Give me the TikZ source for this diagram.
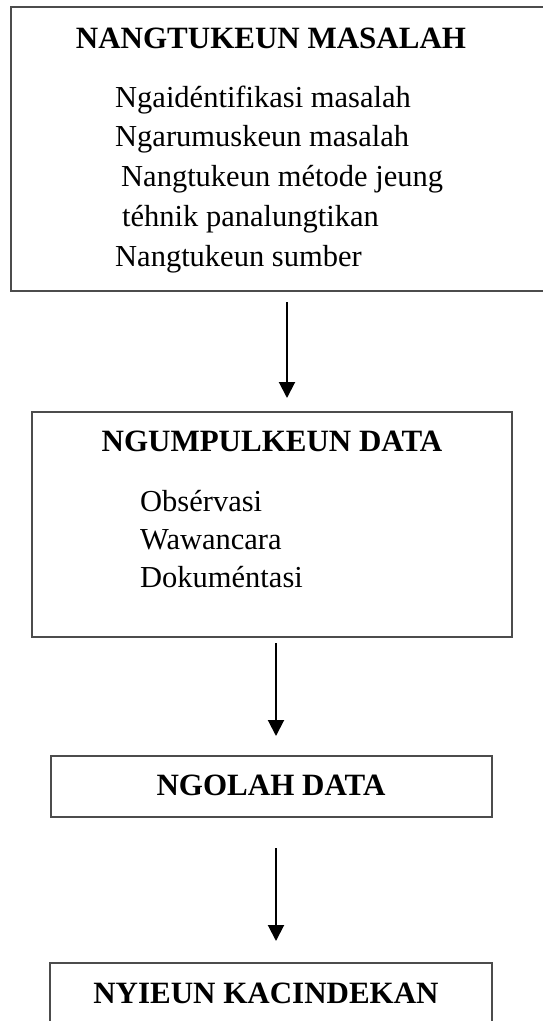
\documentclass[tikz,border=0pt]{standalone}
\usepackage{fontspec}
\setmainfont{Liberation Serif}
\usepackage{tikz}
\usetikzlibrary{arrows.meta}

\tikzset{
  box/.style={shape=rectangle,draw=black!70,line width=1.5pt,inner sep=0pt},
  head/.style={inner sep=0pt,anchor=base,font=\fontsize{31}{36}\selectfont\bfseries},
  item/.style={inner sep=0pt,anchor=base west,font=\fontsize{30.5}{36}\selectfont},
  flow/.style={line width=2pt,-{Triangle[width=16pt,length=16pt]}}
}

\begin{document}
\begin{tikzpicture}[x=1pt,y=-1pt]
\useasboundingbox (0,0) rectangle (543,1021);
% boxes
\path (285.5,149) node (masalah) [box,minimum width=549pt,minimum height=284pt] {};
\path (272,524.5) node (data) [box,minimum width=480pt,minimum height=225pt] {};
\path (271.5,786.5) node (olah) [box,minimum width=441pt,minimum height=61pt] {};
\path (271,1000) node (kacindekan) [box,minimum width=442pt,minimum height=74pt] {};

% titles
\path (271,48) node (tmasalah) [head] {NANGTUKEUN MASALAH};
\path (272,451) node (tdata) [head] {NGUMPULKEUN DATA};
\path (271,795) node (tolah) [head] {NGOLAH DATA};
\path (266,1003) node (tkacindekan) [head] {NYIEUN KACINDEKAN};

% isi
\path (115,107) node (m1) [item] {Ngaidéntifikasi masalah};
\path (115,146) node (m2) [item] {Ngarumuskeun masalah};
\path (121,186) node (m3) [item] {Nangtukeun métode jeung};
\path (122,226) node (m4) [item] {téhnik panalungtikan};
\path (115,266) node (m5) [item] {Nangtukeun sumber};

\path (140,511) node (d1) [item] {Obsérvasi};
\path (140,549) node (d2) [item] {Wawancara};
\path (140,587) node (d3) [item] {Dokuméntasi};

% panah
\coordinate (a1) at (287,302);
\coordinate (b1) at (287,398);
\coordinate (a2) at (276,643);
\coordinate (b2) at (276,736);
\coordinate (a3) at (276,848);
\coordinate (b3) at (276,941);
\draw [flow] (a1) to (b1);
\draw [flow] (a2) to (b2);
\draw [flow] (a3) to (b3);

\end{tikzpicture}
\end{document}
